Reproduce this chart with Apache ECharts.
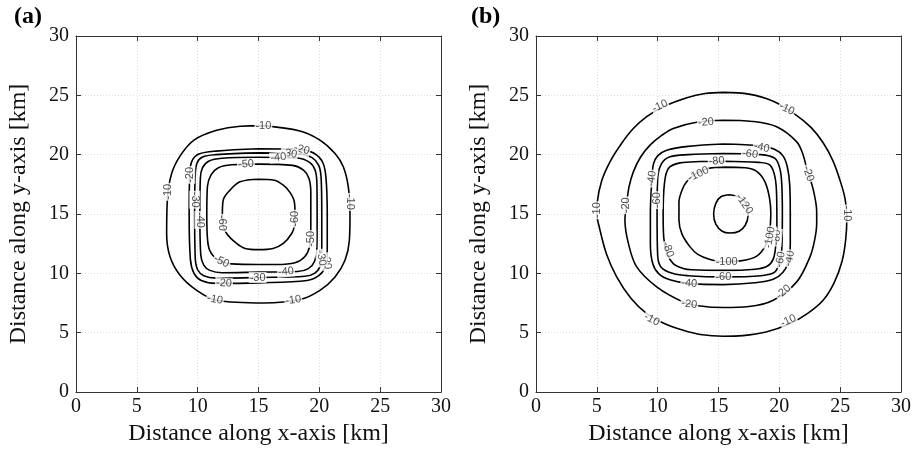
<!DOCTYPE html>
<html>
<head>
<meta charset="utf-8">
<script src="https://cdn.jsdelivr.net/npm/echarts@6/dist/echarts.min.js"></script>
<style>html,body{margin:0;padding:0;background:#fff}#c{width:920px;height:452px}</style>
</head>
<body>
<div id="c"></div>
<script>
// ---------- tick values ----------
const xTicks = [0, 5, 10, 15, 20, 25, 30];
const yTicks = [0, 5, 10, 15, 20, 25, 30];
const panelTitles = ['(a)', '(b)'];
const xName = 'Distance along x-axis [km]';
const yName = 'Distance along y-axis [km]';

// ---------- panel (a) contour lines: [x, y] in km ----------
const a_m10 = [[15.4,22.45],[18.4,22.0],[20.05,21.23],[21.29,20.1],[21.97,18.98],[22.38,17.29],[22.52,15.04],[22.47,12.79],[22.11,11.1],[21.29,9.7],[20.05,8.57],[18.41,7.79],[15.4,7.5],[11.56,7.73],[9.92,8.57],[8.55,9.84],[7.73,11.39],[7.45,13.35],[7.51,16.17],[7.86,18.41],[8.6,19.96],[9.7,21.23],[11.56,22.05],[13.5,22.4],[15.4,22.45]];
const a_m20 = [[15,20.5],[18.4,20.45],[19.6,20.1],[20.3,19.3],[20.55,18],[20.65,15],[20.65,12],[20.5,10.6],[20.0,9.85],[19.0,9.4],[15,9.2],[11.5,9.15],[10.3,9.4],[9.7,10.0],[9.4,11.2],[9.3,15],[9.35,18.5],[9.55,19.5],[10.1,20.05],[11.5,20.3],[15,20.5]];
const a_m30 = [[15,20.15],[18.3,20.1],[19.4,19.75],[19.95,19.1],[20.15,18],[20.2,15],[20.2,12],[20.05,10.6],[19.6,10.0],[18.8,9.75],[15,9.65],[11.5,9.6],[10.5,9.8],[10.0,10.3],[9.8,11.3],[9.75,15],[9.8,18.3],[9.95,19.3],[10.4,19.8],[11.5,20.0],[15,20.15]];
const a_m40 = [[15,19.78],[18.2,19.72],[19.2,19.35],[19.65,18.7],[19.8,17.6],[19.82,15],[19.8,12.2],[19.6,11.0],[19.1,10.4],[18.2,10.15],[15,10.1],[12,10.05],[11.0,10.25],[10.5,10.7],[10.25,11.6],[10.18,15],[10.22,18.0],[10.4,18.9],[10.9,19.45],[12,19.7],[15,19.78]];
const a_m50 = [[15,19.2],[17.8,19.1],[18.7,18.7],[19.15,18],[19.3,16.8],[19.3,14],[19.2,12.3],[18.8,11.4],[18.0,10.9],[16.5,10.75],[15,10.75],[12.8,10.8],[11.6,11.2],[11.0,11.9],[10.8,13],[10.75,15],[10.8,17.3],[11.1,18.3],[11.7,18.9],[12.8,19.15],[15,19.2]];
const a_m60 = [[15,17.93],[16.3,17.85],[17.04,17.43],[17.6,16.8],[17.95,16],[18.0,15],[17.95,14],[17.73,13.36],[17.04,12.52],[16.2,12.1],[15,12.0],[13.9,12.1],[13.2,12.52],[12.38,13.36],[12.05,14.2],[12.03,15],[12.1,16.17],[12.66,17.01],[13.48,17.71],[15,17.93]];

// ---------- panel (b) contour lines ----------
const b_m10 = [[15.4,25.25],[17.5,25.1],[19.5,24.5],[21.3,23.4],[22.6,22.3],[23.6,21.0],[24.4,19.5],[25.0,17.8],[25.4,16.3],[25.55,14.76],[25.45,12.8],[25.15,11.0],[24.5,9.2],[23.6,7.73],[22.3,6.6],[20.9,5.77],[18.9,5.05],[17.0,4.75],[15.4,4.7],[13.5,4.85],[12.1,5.2],[10.5,5.8],[9.1,6.61],[7.8,7.9],[6.63,9.7],[5.8,11.6],[5.2,13.9],[5.0,15.0],[5.04,16.02],[5.4,17.8],[6.08,19.4],[7.0,20.9],[8.0,22.2],[9.1,23.2],[10.46,24.04],[12.4,24.8],[13.9,25.15],[15.4,25.25]];
const b_m20 = [[15.4,22.9],[17.8,22.8],[19.78,22.35],[21.43,21.08],[21.95,20.0],[22.25,18.84],[22.8,17.0],[23.07,15.18],[23.07,14.2],[22.9,12.8],[22.52,11.39],[21.43,9.28],[19.5,7.73],[17.5,7.2],[15.4,7.12],[13.5,7.25],[12.1,7.59],[9.92,8.86],[8.28,10.54],[7.6,12.5],[7.31,14.48],[7.45,15.89],[7.65,17.3],[8.0,18.55],[8.6,19.8],[9.37,20.8],[10.3,21.6],[11.28,22.21],[13.3,22.75],[15.4,22.9]];
const b_m40 = [[15.4,20.9],[18.5,20.75],[19.6,20.45],[20.3,19.9],[20.65,19.0],[20.85,17.5],[20.9,15],[20.9,12.5],[20.75,11.0],[20.3,10.1],[19.5,9.5],[18,9.2],[15.4,9.05],[12.5,9.15],[11.0,9.45],[10.1,9.95],[9.6,10.8],[9.4,12.5],[9.4,15],[9.5,17.5],[9.65,19.2],[10.0,19.9],[10.74,20.38],[12.5,20.7],[15.4,20.9]];
const b_m60 = [[15.4,20.1],[18.5,20.0],[19.64,19.68],[20.05,18.8],[20.2,17.5],[20.25,15],[20.2,12.0],[20.05,11.1],[19.64,10.12],[18.5,9.8],[15.4,9.7],[12.5,9.8],[11.28,9.98],[10.3,10.5],[10.0,11.5],[9.95,15],[10.0,18.0],[10.33,19.26],[11.01,19.82],[12.5,20.0],[15.4,20.1]];
const b_m80 = [[15.4,19.45],[18.3,19.35],[19.23,19.12],[19.64,18.13],[19.78,16.5],[19.8,14],[19.7,12.3],[19.5,11.2],[19.0,10.6],[18.0,10.35],[15.4,10.25],[12.8,10.3],[12.1,10.41],[11.3,10.8],[10.8,11.6],[10.5,13],[10.45,15],[10.55,17.5],[10.88,18.84],[11.84,19.31],[13.5,19.42],[15.4,19.45]];
const b_m100 = [[15.4,18.95],[17.2,18.9],[18.14,18.6],[18.82,17.71],[19.2,16.3],[19.3,15],[19.2,13.5],[18.96,12.51],[18.14,11.45],[16.8,11.05],[15.4,10.98],[14.3,11.17],[13.3,11.6],[12.66,12.23],[12.0,13.3],[11.75,14.5],[11.75,16.0],[12.0,17.0],[12.38,17.71],[13.2,18.45],[14.2,18.85],[15.4,18.95]];
const b_m120 = [[15.95,16.62],[15.2,16.45],[14.78,15.9],[14.6,15.0],[14.78,14.15],[15.3,13.55],[15.95,13.4],[16.7,13.55],[17.2,14.05],[17.42,14.8],[17.35,15.6],[16.9,16.3],[15.95,16.62]];

// ---------- contour labels: [text, x, y, rotation] ----------
const labelsA = [
  ['-10',15.4,22.42,0],['-10',7.55,16.87,90],['-10',22.5,16.02,-90],['-10',11.42,7.8,-10],['-10',17.86,7.75,8],
  ['-20',18.55,20.44,-15],['-20',9.35,18.3,90],['-20',12.16,9.17,-4],['-20',20.6,11.0,-80],
  ['-30',17.53,20.1,-10],['-30',9.76,16.2,-90],['-30',14.93,9.65,0],['-30',20.15,11.3,-80],
  ['-40',16.63,19.76,5],['-40',10.18,14.5,-90],['-40',17.26,10.14,5],
  ['-50',13.97,19.2,4],['-50',11.95,11.0,-25],['-50',19.3,12.9,90],
  ['-60',12.03,14.25,-90],['-60',18.0,14.6,90]
];
const labelsB = [
  ['-10',10.19,24.09,25],['-10',20.6,23.85,-25],['-10',5.0,15.32,90],['-10',25.55,15.04,-90],['-10',9.51,6.1,-28],['-10',20.74,6.0,25],
  ['-20',13.97,22.72,5],['-20',7.4,15.74,90],['-20',22.38,18.41,-72],['-20',12.6,7.4,-6],['-20',20.33,8.43,40],
  ['-40',18.55,20.6,-12],['-40',9.52,17.99,82],['-40',12.6,9.15,-5],['-40',20.85,11.25,78],
  ['-60',17.59,20.05,-8],['-60',9.97,16.17,90],['-60',15.4,9.7,0],['-60',20.1,11.16,80],
  ['-80',14.85,19.45,4],['-80',10.85,12.0,-70],['-80',19.78,13.02,85],
  ['-100',13.34,18.36,25],['-100',15.67,10.98,0],['-100',19.22,13.02,80],
  ['-120',17.12,15.85,-56]
];

const contoursA = [a_m10, a_m20, a_m30, a_m40, a_m50, a_m60];
const contoursB = [b_m10, b_m20, b_m40, b_m60, b_m80, b_m100, b_m120];

const chart = echarts.init(document.getElementById('c'), null, {renderer: 'canvas'});
const serif = 'Liberation Serif';
const axisColor = '#333';

function grids(){
  return [
    {left: 76, top: 36, width: 365, height: 356},
    {left: 536, top: 36, width: 365, height: 356}
  ];
}
function xAxes(){
  const out = [];
  [0,1].forEach(g => {
    out.push({
      type: 'value', gridIndex: g, min: 0, max: 30, interval: 5, position: 'bottom',
      name: xName, nameLocation: 'middle', nameGap: 30,
      nameTextStyle: {fontFamily: serif, fontSize: 24, color: '#111'},
      axisLine: {show: true, lineStyle: {color: axisColor, width: 1}},
      axisTick: {show: true, inside: true, length: 5, lineStyle: {color: axisColor}},
      axisLabel: {fontFamily: serif, fontSize: 20, color: '#111', margin: 5},
      splitLine: {show: true, lineStyle: {color: '#dedede', type: [1, 2], width: 1}}
    });
    out.push({
      type: 'value', gridIndex: g, min: 0, max: 30, interval: 5, position: 'top',
      axisLine: {show: true, onZero: false, lineStyle: {color: axisColor, width: 1}},
      axisTick: {show: true, inside: true, length: 5, lineStyle: {color: axisColor}},
      axisLabel: {show: false}, splitLine: {show: false}
    });
  });
  return out;
}
function yAxes(){
  const out = [];
  [0,1].forEach(g => {
    out.push({
      type: 'value', gridIndex: g, min: 0, max: 30, interval: 5, position: 'left',
      name: yName, nameLocation: 'middle', nameGap: 45,
      nameTextStyle: {fontFamily: serif, fontSize: 24, color: '#111'},
      axisLine: {show: true, lineStyle: {color: axisColor, width: 1}},
      axisTick: {show: true, inside: true, length: 5, lineStyle: {color: axisColor}},
      axisLabel: {fontFamily: serif, fontSize: 20, color: '#111', margin: 7},
      splitLine: {show: true, lineStyle: {color: '#dedede', type: [1, 2], width: 1}}
    });
    out.push({
      type: 'value', gridIndex: g, min: 0, max: 30, interval: 5, position: 'right',
      axisLine: {show: true, onZero: false, lineStyle: {color: axisColor, width: 1}},
      axisTick: {show: true, inside: true, length: 5, lineStyle: {color: axisColor}},
      axisLabel: {show: false}, splitLine: {show: false}
    });
  });
  return out;
}

const series = [];
function addPanel(contours, labels, g){
  contours.forEach(pts => {
    series.push({
      type: 'line', xAxisIndex: g*2, yAxisIndex: g*2, data: pts,
      showSymbol: false, smooth: 0.35, silent: true, z: 3,
      lineStyle: {color: '#000', width: 1.6}
    });
  });
  series.push({
    type: 'scatter', xAxisIndex: g*2, yAxisIndex: g*2, symbolSize: 0, silent: true, z: 5,
    data: labels.map(l => ({
      value: [l[1], l[2]],
      label: {show: true, position: 'inside', formatter: l[0], rotate: l[3]}
    })),
    label: {show: true, position: 'inside', fontFamily: 'Liberation Sans', fontSize: 11,
      color: '#222', backgroundColor: '#fff', padding: [0, 1]}
  });
}
addPanel(contoursA, labelsA, 0);
addPanel(contoursB, labelsB, 1);

chart.setOption({
  animation: false,
  backgroundColor: '#fff',
  grid: grids(),
  xAxis: xAxes(),
  yAxis: yAxes(),
  series: series,
  graphic: [
    {type: 'text', left: 14, top: 5, style: {text: panelTitles[0], font: 'bold 24px "Liberation Serif"', fill: '#000'}},
    {type: 'text', left: 471, top: 5, style: {text: panelTitles[1], font: 'bold 24px "Liberation Serif"', fill: '#000'}}
  ]
});
</script>
</body>
</html>
